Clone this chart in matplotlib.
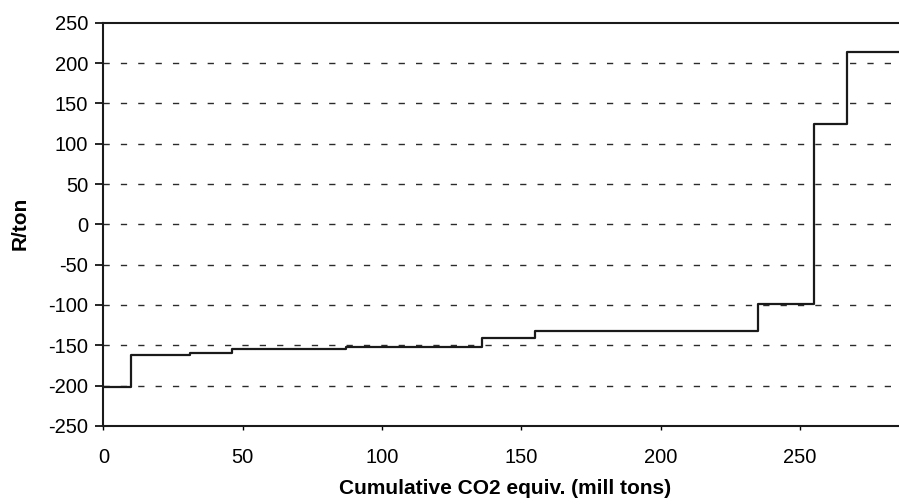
import matplotlib
matplotlib.use("Agg")
import matplotlib.pyplot as plt

plt.rcParams['font.family'] = ['Liberation Sans', 'DejaVu Sans']
plt.rcParams['axes.unicode_minus'] = False

# step edges along the cumulative axis and the cost of each block
x_edges = [0, 10, 31, 46, 87, 136, 155, 235, 255, 267, 285.5]
cost = [-202, -162, -160, -154, -152, -141, -132, -99, 125, 214]
x_ticks = [0, 50, 100, 150, 200, 250]
y_ticks = [-250, -200, -150, -100, -50, 0, 50, 100, 150, 200, 250]

fig = plt.figure(figsize=(8.99, 5.04), dpi=100)
ax = fig.add_axes([0.1151, 0.1548, 0.8849, 0.8002])

# grid lines first so the curve sits on top
for yv in y_ticks[1:-1]:
    ax.axhline(yv, color='#2b2b2b', lw=1.0, dashes=(4.5, 8), zorder=1)

ax.step(x_edges, cost + [cost[-1]], where='post', color='#1a1a1a', lw=1.6, zorder=3)

ax.set_xlim(0, 285.5)
ax.set_ylim(-250, 250)
ax.set_xticks(x_ticks)
ax.set_yticks(y_ticks)
ax.tick_params(axis='y', direction='out', length=6, width=1.2, pad=5, labelsize=14.5)
ax.tick_params(axis='x', direction='out', length=3, width=1.0, pad=13, labelsize=14.5)

for side in ['left', 'top', 'bottom']:
    ax.spines[side].set_linewidth(1.5)
    ax.spines[side].set_color('#1a1a1a')
ax.spines['right'].set_visible(False)

ax.set_xlabel('Cumulative CO2 equiv. (mill tons)', fontsize=15, fontweight='bold')
ax.set_ylabel('R/ton', fontsize=15, fontweight='bold')
ax.xaxis.set_label_coords(0.505, -0.131)
ax.yaxis.set_label_coords(-0.0924, 0.503)

fig.savefig('out.png', dpi=100)
